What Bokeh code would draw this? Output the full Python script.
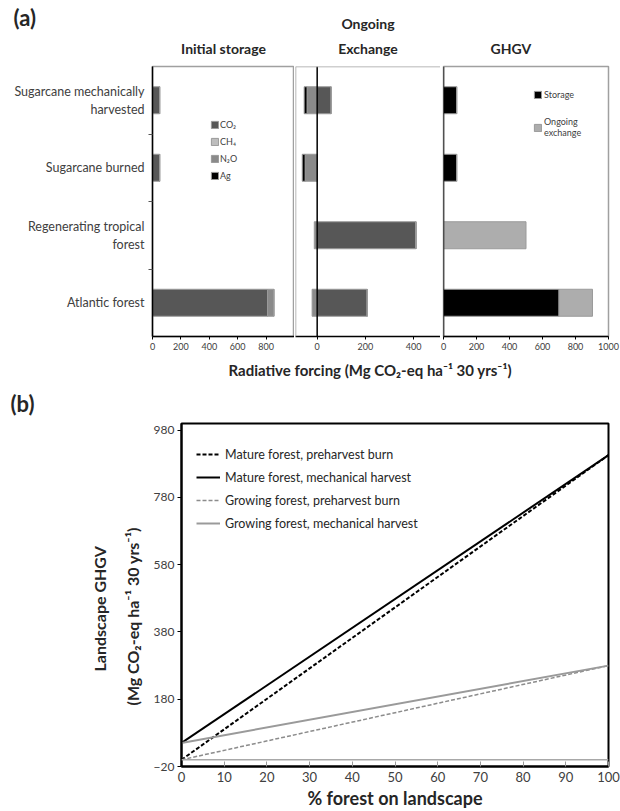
from bokeh.plotting import figure
from bokeh.layouts import row, column
from bokeh.models import (Range1d, FixedTicker, Span, Legend, LegendItem, Title,
                          ColumnDataSource)
from bokeh.embed import file_html
from bokeh.resources import INLINE

FONT = "Lato"
TXT = "#262626"

# ---------------- data: panel (a) ----------------
categories = ["Sugarcane mechanically\nharvested", "Sugarcane burned",
              "Regenerating tropical\nforest", "Atlantic forest"]
gases = ["CO₂", "CH₄", "N₂O", "Ag"]
gas_colors = ["#575757", "#bdbdbd", "#8a8a8a", "#000000"]

storage_co2 = [50, 50, 0, 810]
storage_ch4 = [0, 0, 0, 0]
storage_n2o = [0, 0, 0, 45]
storage_ag = [0, 0, 0, 0]

exchange_co2 = [58, 0, 410, 208]
exchange_ch4 = [0, 0, 0, 0]
exchange_n2o = [-42, -50, -12, -21]
exchange_ag = [-12, -12, 0, 0]

ghgv_parts = ["Storage", "Ongoing\nexchange"]
ghgv_colors = ["#000000", "#adadad"]
ghgv_storage = [80, 80, 0, 700]
ghgv_exchange = [0, 0, 500, 203]

storage_ticks = [0, 200, 400, 600, 800]
exchange_ticks = [0, 200, 400]
ghgv_ticks = [0, 200, 400, 600, 800, 1000]

# ---------------- data: panel (b) ----------------
pct_forest = [0, 100]
mature_burn = [0, 906]
mature_mech = [50, 906]
growing_burn = [0, 280]
growing_mech = [50, 280]
b_yticks = [-20, 180, 380, 580, 780, 980]
b_xticks = [0, 10, 20, 30, 40, 50, 60, 70, 80, 90, 100]


def stack_segments(series):
    """signed stacking: positives (and zeros) right of 0, negatives left of 0"""
    out = [dict(y=[], left=[], right=[]) for _ in series]
    for i in range(len(categories)):
        pos, neg = 0, 0
        for k, vals in enumerate(series):
            v = vals[i]
            if v >= 0:
                out[k]["y"].append(i); out[k]["left"].append(pos); out[k]["right"].append(pos + v)
                pos += v
            else:
                out[k]["y"].append(i); out[k]["left"].append(neg + v); out[k]["right"].append(neg)
                neg += v
    return out


def panel_fig(width, xr, bl, br, xticks, show_y=False):
    p = figure(width=width, height=356, x_range=Range1d(*xr), y_range=Range1d(3.5, -0.5),
               output_backend="svg", toolbar_location=None,
               y_axis_location=("left" if show_y else None),
               min_border_left=bl, min_border_right=br, min_border_top=66, min_border_bottom=20)
    p.xgrid.visible = False
    p.ygrid.visible = False
    p.outline_line_color = "#a0a0a0"
    p.outline_line_width = 1.5
    ax = p.xaxis[0]
    ax.ticker = FixedTicker(ticks=xticks)
    ax.axis_line_color = "black"
    ax.axis_line_width = 1.5
    ax.major_tick_out = 3
    ax.major_tick_in = 0
    ax.minor_tick_out = 0
    ax.minor_tick_in = 0
    ax.major_label_standoff = 3
    ax.major_label_text_font = FONT
    ax.major_label_text_font_size = "9px"
    ax.major_label_text_color = "#404040"
    return p


def add_bars(p, series, colors):
    rends = []
    for seg, col in zip(stack_segments(series), colors):
        src = ColumnDataSource(seg)
        r = p.hbar(y="y", left="left", right="right", height=0.4, source=src,
                   fill_color=col, line_color="#9a9a9a", line_width=1)
        rends.append(r)
    return rends


def add_title(p, text, side="above", size="14px", align="center", offset=0, standoff=10,
              valign="bottom"):
    p.add_layout(Title(text=text, align=align, offset=offset, standoff=standoff,
                       vertical_align=valign,
                       text_font=FONT, text_font_size=size, text_font_style="bold",
                       text_color=TXT), side)


# ---- A1: initial storage ----
a1 = panel_fig(294, (0, 1000), 152, 0, storage_ticks, show_y=True)
ya = a1.yaxis[0]
ya.ticker = FixedTicker(ticks=[0, 1, 2, 3], minor_ticks=[0.5, 1.5, 2.5])
ya.major_label_overrides = {i: c for i, c in enumerate(categories)}
ya.axis_line_color = "black"
ya.axis_line_width = 1.5
ya.major_tick_out = 0
ya.major_tick_in = 0
ya.minor_tick_out = 4
ya.minor_tick_in = 0
ya.minor_tick_line_color = "#555555"
ya.major_label_standoff = 4
ya.major_label_text_font = FONT
ya.major_label_text_font_size = "12.5px"
ya.major_label_text_color = "#404040"
r1 = add_bars(a1, [storage_co2, storage_ch4, storage_n2o, storage_ag], gas_colors)
leg1 = Legend(items=[LegendItem(label=g, renderers=[r]) for g, r in zip(gases, r1)],
              location=(58, 155), padding=0, margin=0, spacing=5,
              label_height=12, glyph_height=9, glyph_width=9, label_standoff=1,
              label_text_font=FONT, label_text_font_size="9px", label_text_color="#404040",
              border_line_color=None, background_fill_alpha=0)
a1.add_layout(leg1)
add_title(a1, "Initial storage", standoff=16, valign="top")
add_title(a1, "(a)", size="22px", align="left", offset=-139, standoff=0, valign="middle")

# ---- A2: ongoing exchange ----
a2 = panel_fig(146, (-90, 512), 1, 0, exchange_ticks)
a2.outline_line_color = None
add_bars(a2, [exchange_co2, exchange_ch4, exchange_n2o, exchange_ag], gas_colors)
a2.add_layout(Span(location=0, dimension="height", line_color="black", line_width=1.5))
a2.add_layout(Span(location=-90, dimension="height", line_color="#a0a0a0", line_width=1.5))
a2.add_layout(Span(location=-0.5, dimension="width", line_color="#a0a0a0", line_width=1.5))
add_title(a2, "Exchange", standoff=16, valign="top")
add_title(a2, "Ongoing", standoff=0)

# ---- A3: GHGV ----
a3 = panel_fig(180, (0, 1000), 3, 12, ghgv_ticks)
r3 = add_bars(a3, [ghgv_storage, ghgv_exchange], ghgv_colors)
a3.add_layout(Span(location=0, dimension="height", line_color="black", line_width=1.5))
leg3 = Legend(items=[LegendItem(label=g, renderers=[r]) for g, r in zip(ghgv_parts, r3)],
              location=(90, 198), padding=0, margin=0, spacing=16,
              label_height=12, glyph_height=9, glyph_width=9, label_standoff=2,
              label_text_font=FONT, label_text_font_size="9px", label_text_color="#404040",
              border_line_color=None, background_fill_alpha=0)
a3.add_layout(leg3)
add_title(a3, "GHGV", align="left", offset=47, standoff=16, valign="top")

# ---------------- panel (b) ----------------
pb = figure(width=620, height=455, x_range=Range1d(0, 100), y_range=Range1d(-20, 1000),
            output_backend="svg", toolbar_location=None,
            min_border_left=181, min_border_right=12, min_border_top=66, min_border_bottom=44)
pb.xgrid.visible = False
pb.ygrid.visible = False
pb.outline_line_color = "black"
pb.outline_line_width = 2
for ax in (pb.xaxis[0], pb.yaxis[0]):
    ax.axis_line_color = "black"
    ax.axis_line_width = 2
    ax.minor_tick_out = 0
    ax.minor_tick_in = 0
    ax.major_label_text_font = FONT
    ax.major_label_text_color = "#404040"
xb = pb.xaxis[0]
xb.ticker = FixedTicker(ticks=b_xticks)
xb.major_tick_in = 5
xb.major_tick_out = 0
xb.major_tick_line_color = "#999999"
xb.major_label_standoff = 5
xb.major_label_text_font_size = "13px"
xb.axis_label = "% forest on landscape"
xb.axis_label_standoff = 2
xb.axis_label_text_font = FONT
xb.axis_label_text_font_size = "18px"
xb.axis_label_text_font_style = "bold"
xb.axis_label_text_color = TXT
yb = pb.yaxis[0]
yb.ticker = FixedTicker(ticks=b_yticks)
yb.major_tick_out = 4
yb.major_tick_in = 0
yb.major_label_standoff = 3
yb.major_label_text_font_size = "12px"

pb.add_layout(Span(location=0, dimension="width", line_color="#a8a8a8", line_width=1.5))

l1 = pb.line(pct_forest, mature_burn, line_color="black", line_width=2, line_dash="4 2")
l2 = pb.line(pct_forest, mature_mech, line_color="black", line_width=2)
l3 = pb.line(pct_forest, growing_burn, line_color="#8c8c8c", line_width=1.5, line_dash="4 2")
l4 = pb.line(pct_forest, growing_mech, line_color="#9a9a9a", line_width=2)
legb = Legend(items=[LegendItem(label="Mature forest, preharvest burn", renderers=[l1]),
                     LegendItem(label="Mature forest, mechanical harvest", renderers=[l2]),
                     LegendItem(label="Growing forest, preharvest burn", renderers=[l3]),
                     LegendItem(label="Growing forest, mechanical harvest", renderers=[l4])],
              location=(15, 233), padding=0, margin=0, spacing=3,
              label_height=20, glyph_height=20, glyph_width=24, label_standoff=5,
              label_text_font=FONT, label_text_font_size="12.5px", label_text_color=TXT,
              border_line_color=None, background_fill_alpha=0)
pb.add_layout(legb)

add_title(pb, "(b)", size="22px", align="left", offset=-171, standoff=14)
add_title(pb, "Radiative forcing (Mg CO₂-eq ha⁻¹ 30 yrs⁻¹)", size="15px",
          align="left", offset=47, standoff=4)
add_title(pb, "(Mg CO₂-eq ha⁻¹ 30 yrs⁻¹)", side="left", size="16px",
          align="left", offset=61, standoff=17)
add_title(pb, "Landscape GHGV", side="left", size="16px",
          align="left", offset=95, standoff=8)

layout = column(row(a1, a2, a3, spacing=0), pb, spacing=0)
open("out.html", "w").write(file_html(layout, INLINE))
